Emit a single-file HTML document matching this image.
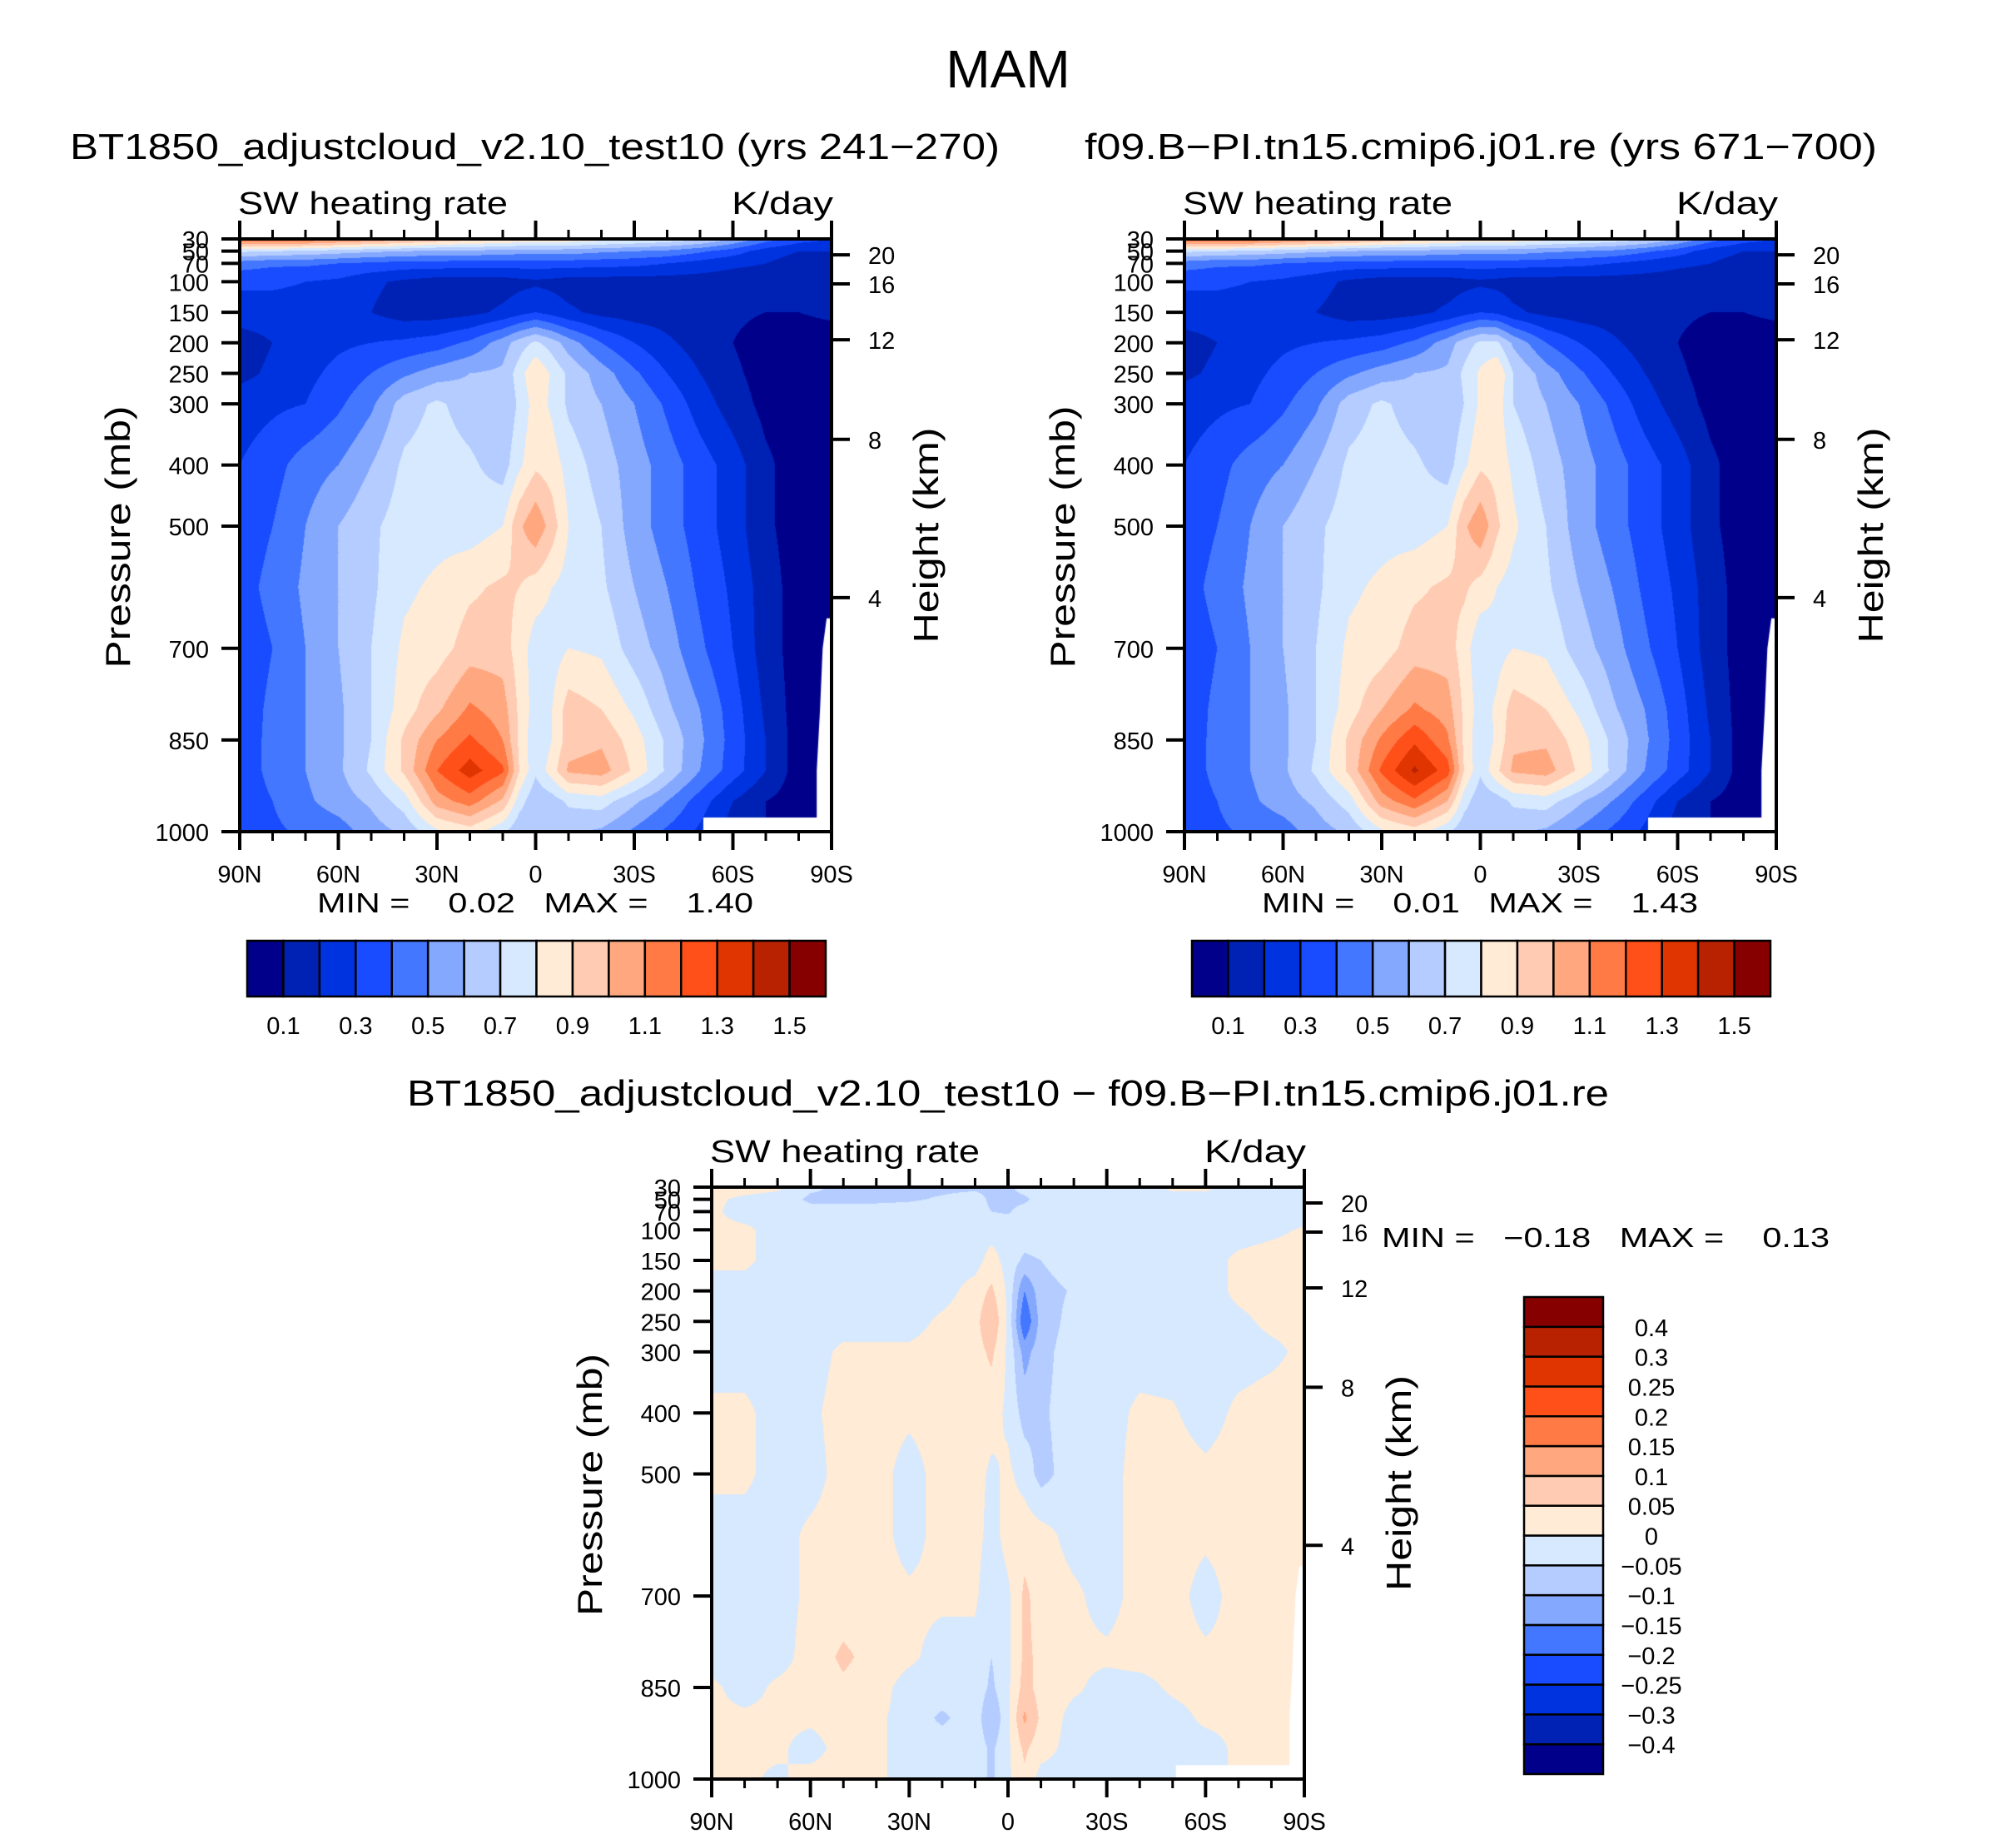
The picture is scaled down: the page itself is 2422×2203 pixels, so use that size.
<!DOCTYPE html>
<html><head><meta charset="utf-8"><style>
html,body{margin:0;padding:0;background:#fff;}
#root{position:relative;width:2422px;height:2203px;overflow:hidden;background:#fff;}
canvas{position:absolute;}
svg{position:absolute;left:0;top:0;}
text{font-family:"Liberation Sans",sans-serif;fill:#000;}
</style></head><body>
<div id="root">
<canvas id="c1"></canvas>
<canvas id="c2"></canvas>
<canvas id="c3"></canvas>
<svg id="ov" width="2422" height="2203">
<text x="1211" y="105" font-size="64" text-anchor="middle">MAM</text>
<text x="84" y="191" font-size="44" textLength="1117" lengthAdjust="spacingAndGlyphs">BT1850_adjustcloud_v2.10_test10 (yrs 241−270)</text>
<text x="1303" y="191" font-size="44" textLength="952" lengthAdjust="spacingAndGlyphs">f09.B−PI.tn15.cmip6.j01.re (yrs 671−700)</text>
<text x="489" y="1328" font-size="44" textLength="1444" lengthAdjust="spacingAndGlyphs">BT1850_adjustcloud_v2.10_test10 − f09.B−PI.tn15.cmip6.j01.re</text>
<g id="axes"></g>
</svg>
</div>
<script>
// ---- data ----
const lats = [90,80,70,60,50,40,30,20,10,5,0,-5,-10,-20,-30,-40,-50,-60,-70,-80,-90];
const pLevels = [30,50,70,100,150,200,250,300,400,500,600,700,800,850,900,950,1000];
const pTicks = [30,50,70,100,150,200,250,300,400,500,700,850,1000];
const hTickP = [56,103.6,195,358,617];
const hTickLabels = ["20","16","12","8","4"];
const latTicks = [90,60,30,0,-30,-60,-90];
const latTickLabels = ["90N","60N","30N","0","30S","60S","90S"];
const levelsAbs = [0.1,0.2,0.3,0.4,0.5,0.6,0.7,0.8,0.9,1.0,1.1,1.2,1.3,1.4,1.5];
const absBarLabels = ["0.1","0.3","0.5","0.7","0.9","1.1","1.3","1.5"];
const levelsDiff = [-0.4,-0.3,-0.25,-0.2,-0.15,-0.1,-0.05,0,0.05,0.1,0.15,0.2,0.25,0.3,0.4];
const diffBarLabels = ["−0.4","−0.3","−0.25","−0.2","−0.15","−0.1","−0.05","0","0.05","0.1","0.15","0.2","0.25","0.3","0.4"];
const colors = ["#00008b","#0022b4","#0033e0","#1a4cff","#4477ff","#85a8ff","#b4ccff","#d6e9ff","#ffebd6","#ffcbb2","#ffa880","#ff7a45","#ff5019","#e03500","#b82200","#870000"];
const mask = [[-51,977],[-85.5,977],[-85.5,900],[-86.5,800],[-87.3,700],[-88.5,651],[-90,651],[-90,1000],[-51,1000]];

const field1 = [
[1.2,1.2,1.2,1.15,1.1,1.05,1.0,.95,.92,.9,.9,.9,.88,.85,.82,.78,.72,.6,.45,.35,.3],
[.72,.7,.68,.65,.62,.6,.58,.58,.56,.55,.55,.55,.55,.52,.5,.48,.42,.35,.25,.2,.2],
[.45,.42,.42,.4,.38,.36,.36,.35,.35,.35,.35,.35,.35,.34,.33,.3,.26,.22,.2,.15,.15],
[.32,.32,.3,.28,.22,.18,.15,.15,.15,.17,.18,.17,.15,.15,.15,.15,.15,.15,.15,.12,.12],
[.25,.25,.25,.22,.2,.15,.15,.17,.22,.26,.3,.26,.22,.17,.15,.15,.14,.12,.1,.1,.12],
[.15,.2,.25,.28,.3,.32,.35,.42,.55,.65,.72,.65,.55,.4,.3,.22,.15,.1,.05,.05,.05],
[.17,.22,.27,.33,.4,.48,.55,.6,.62,.75,.9,.78,.68,.55,.42,.3,.2,.12,.06,.05,.05],
[.25,.28,.3,.38,.48,.65,.72,.65,.6,.72,.85,.78,.68,.6,.5,.38,.25,.15,.07,.05,.05],
[.3,.36,.45,.5,.6,.72,.75,.72,.65,.78,.88,.85,.76,.65,.55,.45,.35,.25,.12,.05,.05],
[.34,.4,.5,.6,.68,.75,.76,.75,.8,.98,1.08,.95,.8,.7,.55,.45,.35,.25,.12,.05,.05],
[.36,.43,.52,.6,.68,.78,.82,.88,.92,.9,.85,.8,.76,.72,.6,.5,.38,.28,.15,.05,.05],
[.34,.4,.5,.6,.7,.82,.85,.95,.95,.85,.75,.75,.8,.78,.65,.55,.42,.3,.15,.05,.05],
[.35,.42,.5,.58,.7,.85,.98,1.12,1.05,.88,.75,.8,.95,.9,.78,.62,.5,.35,.18,.05,.05],
[.36,.42,.5,.58,.7,.92,1.1,1.22,1.1,.88,.72,.8,.95,.98,.85,.68,.52,.36,.2,.05,.05],
[.36,.42,.5,.58,.72,.92,1.2,1.35,1.22,.9,.72,.85,1.02,1.05,.88,.68,.5,.35,.2,.05,.05],
[.36,.4,.48,.55,.62,.75,1.05,1.15,.98,.75,.62,.65,.72,.75,.62,.5,.35,.2,.1,.05,.05],
[.35,.38,.42,.45,.55,.62,.78,.85,.72,.62,.6,.6,.62,.58,.48,.38,.28,.15,.1,.05,.05]];

const field2 = [
[1.2,1.2,1.2,1.15,1.1,1.05,1.0,.95,.92,.9,.9,.9,.88,.85,.82,.78,.72,.6,.45,.35,.3],
[.72,.7,.68,.65,.62,.6,.58,.58,.56,.55,.55,.55,.55,.52,.5,.48,.42,.35,.25,.2,.2],
[.45,.42,.42,.4,.38,.36,.36,.35,.35,.35,.35,.35,.35,.34,.33,.3,.26,.22,.2,.15,.15],
[.32,.32,.3,.28,.24,.18,.15,.15,.15,.17,.18,.17,.15,.15,.15,.15,.15,.15,.15,.12,.12],
[.25,.25,.25,.22,.2,.15,.15,.17,.22,.26,.3,.28,.22,.17,.15,.15,.14,.12,.1,.1,.12],
[.16,.2,.25,.28,.3,.32,.35,.42,.55,.65,.72,.72,.58,.4,.3,.22,.15,.1,.05,.05,.05],
[.18,.22,.27,.33,.4,.48,.55,.6,.62,.72,.82,.9,.7,.55,.42,.3,.2,.12,.06,.05,.05],
[.25,.28,.3,.38,.48,.65,.72,.65,.6,.7,.82,.86,.7,.6,.5,.38,.25,.15,.07,.05,.05],
[.3,.36,.45,.5,.6,.72,.75,.72,.65,.78,.88,.86,.78,.65,.55,.45,.35,.25,.12,.05,.05],
[.34,.4,.5,.6,.68,.75,.76,.75,.8,.98,1.08,.92,.82,.7,.55,.45,.35,.25,.12,.05,.05],
[.36,.43,.52,.6,.68,.78,.82,.88,.92,.92,.86,.8,.76,.72,.6,.5,.38,.28,.15,.05,.05],
[.34,.4,.5,.6,.7,.82,.85,.95,.95,.85,.72,.76,.8,.78,.65,.55,.42,.3,.15,.05,.05],
[.35,.42,.5,.58,.7,.85,1.0,1.12,1.05,.88,.75,.82,.95,.9,.78,.62,.5,.35,.18,.05,.05],
[.36,.42,.5,.58,.7,.92,1.12,1.28,1.12,.88,.72,.82,.98,.98,.85,.68,.52,.36,.2,.05,.05],
[.36,.42,.5,.58,.72,.92,1.22,1.42,1.25,.9,.72,.88,1.02,1.05,.88,.68,.5,.35,.2,.05,.05],
[.36,.4,.48,.55,.62,.75,1.05,1.18,1.0,.75,.62,.65,.72,.75,.62,.5,.35,.2,.1,.05,.05],
[.35,.38,.42,.45,.55,.62,.78,.85,.72,.62,.6,.6,.62,.58,.48,.38,.28,.15,.1,.05,.05]];

const fieldDiff = [
[.02,.02,.01,-.04,-.06,-.06,-.06,-.06,-.06,-.06,-.06,-.03,-.02,-.02,-.02,-.02,.01,.01,-.02,-.02,-.02],
[.01,-.01,-.02,-.06,-.06,-.06,-.055,-.045,-.03,-.06,-.065,-.06,-.03,-.02,-.02,-.02,-.02,-.02,-.02,-.02,-.02],
[.01,-.02,-.02,-.03,-.03,-.03,-.03,-.03,-.03,-.05,-.055,-.03,-.02,-.02,-.02,-.02,-.02,-.02,-.02,-.02,-.02],
[.01,.01,-.02,-.02,-.02,-.02,-.02,-.02,-.02,-.02,-.02,-.02,-.02,-.02,-.02,-.02,-.02,-.02,-.02,-.01,.005],
[.01,.01,-.02,-.02,-.02,-.02,-.02,-.02,-.02,.02,-.02,-.06,-.05,-.02,-.02,-.02,-.02,-.02,.01,.02,.02],
[-.02,-.02,-.02,-.02,-.02,-.02,-.02,-.02,.02,.06,-.01,-.15,-.07,-.045,-.02,-.02,-.02,-.02,.01,.02,.02],
[-.02,-.02,-.02,-.02,-.02,-.02,-.02,.01,.03,.1,-.01,-.2,-.08,-.03,-.02,-.02,-.02,-.02,-.01,.01,.01],
[-.02,-.02,-.02,-.02,.01,.01,.01,.02,.03,.06,-.01,-.12,-.07,-.02,-.02,-.02,-.02,-.02,-.02,-.01,.01],
[.01,.01,-.02,-.01,.02,.02,.01,.02,.03,.02,-.01,-.07,-.06,-.02,-.02,.01,.005,-.02,.01,.02,.02],
[.01,.01,-.02,-.02,.02,.02,-.02,.02,.02,-.01,.01,-.02,-.07,-.02,-.02,.02,.02,.01,.02,.02,.02],
[-.02,-.02,-.02,.01,.02,.02,-.02,.02,.02,-.02,.02,.03,.02,-.02,-.02,.02,.02,.01,.02,.02,.02],
[-.02,-.02,-.02,.01,.02,.02,.01,.01,.01,-.04,-.01,.06,.03,.01,-.02,.02,.02,-.02,.02,.02,.02],
[-.02,-.02,-.02,.02,.06,.03,.01,-.02,-.02,-.05,-.01,.06,.04,.01,.01,.02,.02,.01,.01,.02,.02],
[.01,-.02,.01,.02,.04,.02,-.02,-.02,-.02,-.06,-.01,.07,.03,.01,-.02,-.02,.01,.02,.02,.02,.02],
[.01,.01,.01,.01,.02,.01,-.02,-.06,-.02,-.1,-.01,.11,.04,-.02,-.02,-.04,-.02,.01,.01,.02,.01],
[.01,.01,.01,-.02,.02,.01,-.02,-.02,-.02,-.06,-.01,.06,.02,-.02,-.02,-.02,-.02,-.02,.01,.02,.01],
[.01,.01,-.01,.02,.02,.01,-.02,-.02,-.02,-.06,-.01,.04,-.02,-.02,-.02,-.02,-.02,-.02,.01,.01,.01]];

// ---- layout ----
const P1 = {x:288,y:287,w:711,h:712};
const P2 = {x:1423,y:287,w:711,h:712};
const PD = {x:855,y:1426,w:712,h:711};
const SVGNS = "http://www.w3.org/2000/svg";
const axes = document.getElementById('axes');

function px(P, lat){ return P.x + (90-lat)/180*P.w; }
function py(P, p){ return P.y + (p-30)/970*P.h; }

function interp(field, lat, p){
  let j=0; while(j<lats.length-2 && lat < lats[j+1]) j++;
  let i=0; while(i<pLevels.length-2 && p > pLevels[i+1]) i++;
  const tx=(lats[j]-lat)/(lats[j]-lats[j+1]);
  const ty=(p-pLevels[i])/(pLevels[i+1]-pLevels[i]);
  const a=field[i][j], b=field[i][j+1], c=field[i+1][j], d=field[i+1][j+1];
  return (a*(1-tx)+b*tx)*(1-ty)+(c*(1-tx)+d*tx)*ty;
}
function hexRGB(h){ return [parseInt(h.substr(1,2),16),parseInt(h.substr(3,2),16),parseInt(h.substr(5,2),16)]; }
const rgb = colors.map(hexRGB);

function drawField(id, P, field, levels){
  const cv=document.getElementById(id);
  cv.width=P.w; cv.height=P.h;
  cv.style.left=P.x+'px'; cv.style.top=P.y+'px';
  const ctx=cv.getContext('2d');
  const img=ctx.createImageData(P.w,P.h);
  for(let y=0;y<P.h;y++){
    const p=30+970*(y+0.5)/P.h;
    for(let x=0;x<P.w;x++){
      const lat=90-180*(x+0.5)/P.w;
      const v=interp(field,lat,p);
      let k=0; while(k<levels.length && v>=levels[k]) k++;
      const c=rgb[k]; const o=(y*P.w+x)*4;
      img.data[o]=c[0]; img.data[o+1]=c[1]; img.data[o+2]=c[2]; img.data[o+3]=255;
    }
  }
  ctx.putImageData(img,0,0);
  ctx.fillStyle='#fff'; ctx.beginPath();
  mask.forEach((m,n)=>{ const X=px(P,m[0])-P.x, Y=py(P,m[1])-P.y; if(n===0) ctx.moveTo(X,Y); else ctx.lineTo(X,Y); });
  ctx.closePath(); ctx.fill();
}

function line(x1,y1,x2,y2,w,name){
  const l=document.createElementNS(SVGNS,'line');
  l.setAttribute('x1',x1); l.setAttribute('y1',y1); l.setAttribute('x2',x2); l.setAttribute('y2',y2);
  l.setAttribute('stroke','#000'); l.setAttribute('stroke-width',w);
  
  
  axes.appendChild(l); return l;
}
function text(x,y,s,size,anchor,name,extra){
  const t=document.createElementNS(SVGNS,'text');
  t.setAttribute('x',x); t.setAttribute('y',y); t.setAttribute('font-size',size);
  t.setAttribute('text-anchor',anchor||'start');
  if(extra){ for(const k in extra) t.setAttribute(k,extra[k]); }
  t.textContent=s;
  
  
  axes.appendChild(t); return t;
}
function rect(x,y,w,h,fill,name){
  const r=document.createElementNS(SVGNS,'rect');
  r.setAttribute('x',x); r.setAttribute('y',y); r.setAttribute('width',w); r.setAttribute('height',h);
  r.setAttribute('fill',fill); r.setAttribute('stroke','#000'); r.setAttribute('stroke-width',2.5);
  
  
  axes.appendChild(r); return r;
}

function drawAxes(P, minmax, mmPos){
  const x0=P.x, x1=P.x+P.w, y0=P.y, y1=P.y+P.h;
  for(let lat=90; lat>=-90; lat-=10){
    const X=px(P,lat); const major=(lat%30===0);
    const L=major?22:11;
    line(X,y1,X,y1+L,major?4:3,'x-tick-bottom');
    line(X,y0,X,y0-L,major?4:3,'x-tick-top');
  }
  latTicks.forEach((lat,i)=>{ text(px(P,lat),y1+61,latTickLabels[i],29,'middle','x-tick-label'); });
  pTicks.forEach(p=>{ line(x0-22,py(P,p),x0,py(P,p),4,'y-tick-pressure'); text(x0-37,py(P,p)+11,String(p),29,'end','y-tick-label'); });
  hTickP.forEach((p,i)=>{ line(x1,py(P,p),x1+22,py(P,p),4,'y-tick-height'); text(x1+44,py(P,p)+11,hTickLabels[i],29,'start','height-tick-label'); });
  const f=document.createElementNS(SVGNS,'rect');
  f.setAttribute('x',x0); f.setAttribute('y',y0); f.setAttribute('width',P.w); f.setAttribute('height',P.h);
  f.setAttribute('fill','none'); f.setAttribute('stroke','#000'); f.setAttribute('stroke-width',4);
  
  
  axes.appendChild(f);
  text(x0-2,y0-30,'SW heating rate',38,'start','left-subtitle',{textLength:324,lengthAdjust:'spacingAndGlyphs'});
  text(x1+2,y0-30,'K/day',38,'end','right-subtitle',{textLength:122,lengthAdjust:'spacingAndGlyphs'});
  const cy=(y0+y1)/2;
  text(0,0,'Pressure (mb)',42,'middle','y-axis-title',{transform:`translate(${x0-132},${cy+2}) rotate(-90)`,textLength:315,lengthAdjust:'spacingAndGlyphs'});
  text(0,0,'Height (km)',42,'middle','y2-axis-title',{transform:`translate(${x1+128},${cy}) rotate(-90)`,textLength:259,lengthAdjust:'spacingAndGlyphs'});
  text(mmPos[0],mmPos[1],minmax,33,'start','min-max-label',{style:'white-space:pre',textLength:mmPos[2],lengthAdjust:'spacingAndGlyphs'});
}

function hBar(x,y,w,h,labels){
  const bw=w/16;
  colors.forEach((c,i)=>rect(x+i*bw,y,bw,h,c,'colorbar-box'));
  labels.forEach((s,i)=>text(x+(2*i+1)*bw,y+h+45,s,29,'middle','colorbar-label'));
}
function vBar(x,y,w,h,labels){
  const bh=h/16;
  colors.forEach((c,i)=>rect(x,y+h-(i+1)*bh,w,bh,c,'colorbar-box'));
  labels.forEach((s,i)=>text(x+w+58,y+h-(i+1)*bh+11,s,29,'middle','colorbar-label'));
}

drawField('c1',P1,field1,levelsAbs);
drawField('c2',P2,field2,levelsAbs);
drawField('c3',PD,fieldDiff,levelsDiff);
drawAxes(P1,'MIN =    0.02   MAX =    1.40',[381,1096,524]);
drawAxes(P2,'MIN =    0.01   MAX =    1.43',[1516,1096,524]);
drawAxes(PD,'MIN =   −0.18   MAX =    0.13',[1660,1498,538]);
hBar(297,1130,695,67,absBarLabels);
hBar(1432,1130,695,67,absBarLabels);
vBar(1831,1558,95,573,diffBarLabels);
</script>
</body></html>
